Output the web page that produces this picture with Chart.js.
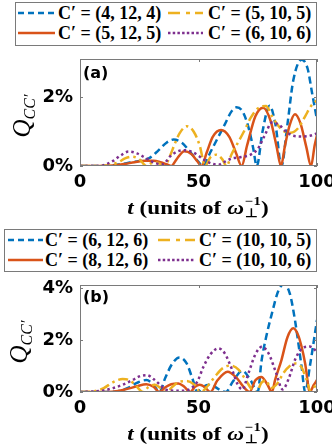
<!DOCTYPE html>
<html>
<head>
<meta charset="utf-8">
<script src="https://cdn.jsdelivr.net/npm/chart.js@4.4.1/dist/chart.umd.min.js"></script>
<style>
  html, body { margin: 0; padding: 0; background: #fff; }
  body { width: 332px; height: 447px; position: relative; overflow: hidden; }
  canvas { position: absolute; left: 0; }
  .box { position: absolute; box-sizing: border-box; border: 1px solid #7a7a7a; background: #fff; }
  .sample { position: absolute; }
  .ltxt { position: absolute; font-family: "Liberation Serif", serif; font-weight: bold; font-size: 18px;
          line-height: 20px; white-space: nowrap; color: #000; }
  .tag { position: absolute; font-family: "DejaVu Sans", sans-serif; font-weight: bold; font-size: 16px; line-height: 18px; }
  .xt { position: absolute; left: 198px; transform: translateX(-50%) scaleX(1.22); font-family: "Liberation Serif", serif;
        font-weight: bold; font-size: 19px; line-height: 22px; white-space: nowrap; }
  .ss { display: inline-block; position: relative; width: 14px; height: 10px; }
  .ss .up { position: absolute; left: 1px; top: -9px; font-size: 12px; line-height: 12px; }
  .ss .dn { position: absolute; left: 1px; top: 3px; font-size: 12px; line-height: 12px; }
  .yt { position: absolute; font-family: "Liberation Serif", serif; font-style: italic; font-size: 25px; line-height: 26px;
        white-space: nowrap; transform: translate(-50%, -50%) rotate(-90deg); }
  .yt sub { font-size: 16px; vertical-align: -5px; }
</style>
</head>
<body>
<div class="box" style="left:15px;top:2px;width:302px;height:44px"></div>
<div class="box" style="left:4px;top:229px;width:313px;height:43px"></div>
<div id="legendA"></div>
<div id="legendB"></div>

<canvas id="chartA" width="332" height="152" style="top:48px"></canvas>
<canvas id="chartB" width="332" height="152" style="top:274px"></canvas>

<div class="tag" style="left:83px;top:64px">(a)</div>
<div class="tag" style="left:83px;top:288px">(b)</div>

<div class="xt" style="top:197px"><i>t</i> (units of <i>ω</i><span class="ss"><span class="up">−1</span><span class="dn">⊥</span></span>)</div>
<div class="xt" style="top:423px"><i>t</i> (units of <i>ω</i><span class="ss"><span class="up">−1</span><span class="dn">⊥</span></span>)</div>

<div class="yt" style="left:26px;top:116px">Q<sub>CC′</sub></div>
<div class="yt" style="left:23px;top:342px">Q<sub>CC′</sub></div>

<script>
// panel (a): C' = (4,12,4), (5,12,5), (5,10,5), (6,10,6)
const labelsA = ["C′ = (4, 12, 4)", "C′ = (5, 12, 5)", "C′ = (5, 10, 5)", "C′ = (6, 10, 6)"];
const tA1 = [0, 8, 13, 17, 21, 25, 29, 33, 36.5, 39.5, 43, 46, 49, 52, 55, 58, 61, 64, 66, 68.5, 71, 73, 74.6, 77, 80, 82.5, 85, 87.5, 90, 93.5, 96, 98, 100];
const qA1 = [0, 0, 0.02, 0.05, 0.1, 0.15, 0.22, 0.45, 0.68, 0.77, 0.68, 0.45, 0.2, 0, 0.4, 0.8, 1.2, 1.6, 1.71, 1.6, 1.15, 0.55, 0, 1.0, 1.76, 1.2, 0, 1.2, 2.5, 3.1, 2.85, 2.1, 1.35];
const tA2 = [0, 10, 15, 19, 23, 27.5, 31, 34, 36.5, 38.5, 41, 44, 47, 49.5, 51.3, 53.5, 56, 59.5, 63, 66, 68.2, 70.5, 74, 77.3, 80.5, 83, 84.8, 86.5, 88.5, 90.7, 93, 95.5, 97.5, 99, 100];
const qA2 = [0, 0, 0.02, 0.06, 0.11, 0.15, 0.15, 0.11, 0.05, 0, 0.22, 0.43, 0.35, 0.14, 0, 0.4, 0.85, 1.05, 0.85, 0.35, 0, 0.6, 1.45, 1.7, 1.3, 0.55, 0, 0.6, 1.2, 1.51, 1.25, 0.55, 0, 0.6, 0.9];
const tA3 = [0, 8, 12, 16, 19, 22, 25, 28, 30, 32, 34, 35.8, 38, 40, 42, 45, 48, 50.5, 52.8, 55, 57.5, 60, 61.8, 64, 66, 69.5, 72, 75, 78.5, 81, 84, 87, 89, 92, 95, 97.5, 100];
const qA3 = [0, 0, 0.03, 0.1, 0.22, 0.27, 0.2, 0, 0.08, 0.1, 0.06, 0, 0.3, 0.65, 0.95, 1.16, 1.0, 0.6, 0, 0.25, 0.33, 0.2, 0, 0.35, 0.6, 1.05, 1.4, 1.68, 1.75, 1.45, 1.15, 0.98, 0.97, 1.1, 1.45, 1.75, 1.92];
const tA4 = [0, 8, 11, 14, 17, 20.5, 24, 28, 32, 35, 38, 41, 44, 47, 50, 53, 56, 58.5, 61, 64, 68, 72, 75, 78, 81, 84, 87, 90, 94, 97, 100];
const qA4 = [0, 0, 0.05, 0.15, 0.3, 0.42, 0.37, 0.22, 0.08, 0.05, 0.28, 0.42, 0.46, 0.42, 0.3, 0.15, 0.06, 0.04, 0.12, 0.22, 0.26, 0.33, 0.5, 0.9, 1.27, 1.2, 1.0, 0.88, 0.86, 0.88, 0.95];

// panel (b): C' = (6,12,6), (8,12,6), (10,10,5), (10,10,6)
const labelsB = ["C′ = (6, 12, 6)", "C′ = (8, 12, 6)", "C′ = (10, 10, 5)", "C′ = (10, 10, 6)"];
const tB1 = [0, 12, 16, 20, 24, 28, 31, 33.5, 36, 39, 42, 45, 47.5, 49.5, 52, 54.5, 57, 59.5, 61.5, 64.5, 68.5, 72, 75, 76.6, 78.5, 80.9, 83.7, 86, 88.5, 90.7, 93.5, 95, 97, 100];
const qB1 = [0, 0, 0.03, 0.15, 0.35, 0.46, 0.28, 0, 0.55, 1.1, 1.33, 1.1, 0.5, 0, 0.2, 0.28, 0.2, 0.05, 0, 0.4, 0.82, 0.45, 0, 1.2, 2.1, 3.0, 3.9, 4.15, 3.8, 2.77, 0.97, 0, 1.0, 2.77];
const tB2 = [0, 12, 16, 20, 24, 28, 31, 33.5, 36, 38.5, 41.5, 44, 46.5, 48.5, 50.5, 52.5, 55, 58, 62.3, 66, 69, 71.5, 74, 76.5, 79, 81, 82.3, 85, 87.5, 90, 92, 93.5, 95, 97, 98.5, 100];
const qB2 = [0, 0, 0.04, 0.12, 0.22, 0.3, 0.2, 0, 0.18, 0.3, 0.33, 0.2, 0, 0.2, 0.28, 0.2, 0, 0.45, 0.78, 0.55, 0.2, 0, 0.45, 0.58, 0.3, 0, 0.46, 1.23, 2.1, 2.45, 2.2, 1.74, 1.1, 0, 0.25, 0.46];
const tB3 = [0, 6, 10, 14, 18, 21, 24, 26.5, 29, 31.5, 34, 36.5, 39, 42, 45, 48, 51, 54, 57, 60, 63.5, 67, 70, 72.5, 74.5, 76.5, 78.5, 80.5, 83, 86, 88.5, 91, 93.5, 95.5, 97.5, 100];
const qB3 = [0, 0.03, 0.15, 0.38, 0.5, 0.45, 0.2, 0, 0.2, 0.28, 0.15, 0, 0.2, 0.4, 0.42, 0.3, 0, 0.25, 0.6, 0.9, 1.02, 0.85, 0.45, 0.1, 0, 0.35, 0.45, 0.15, 0.3, 0.75, 1.0, 1.1, 0.95, 0.5, 0, 0.4];
const tB4 = [0, 6, 10, 14, 18, 22, 25, 28.2, 31, 33.5, 36, 40, 44, 47, 49.5, 52, 55, 58.4, 61, 64, 66.5, 68.5, 71, 74, 76.7, 79.5, 82.5, 85.5, 88, 91, 94.5, 97, 100];
const qB4 = [0, 0.02, 0.06, 0.15, 0.28, 0.45, 0.6, 0.65, 0.5, 0.3, 0.1, 0.05, 0.05, 0.15, 0.4, 0.95, 1.45, 1.68, 1.5, 0.9, 0.3, 0.1, 0.7, 1.45, 1.74, 1.5, 0.8, 0.1, 0.5, 1.3, 1.72, 1.75, 1.55];

const xTicks = [0, 50, 100];
const yTicksA = [0, 2];
const yTicksB = [0, 2, 4];

const colors = ["#0072BD", "#D95319", "#EDB120", "#7E2F8E"];
const dashes = [[7, 4], [], [10, 4, 2.5, 4], [2.5, 3]];
const legendDashes = [[6, 4], [], [12, 6, 4, 5], [2.5, 2.2]];

Chart.defaults.font.family = "DejaVu Sans";

function pts(ts, qs) {
  return ts.map((t, i) => ({ x: t, y: qs[i] }));
}

const frame = {
  id: "frame",
  afterDatasetsDraw(chart) {
    const { ctx, chartArea: a, scales: { x, y } } = chart;
    ctx.save();
    ctx.strokeStyle = "#7a7a7a";
    ctx.lineWidth = 1;
    ctx.beginPath();
    x.ticks.forEach(t => {
      const px = Math.round(x.getPixelForValue(t.value)) + 0.5;
      ctx.moveTo(px, a.bottom); ctx.lineTo(px, a.bottom - 3);
      ctx.moveTo(px, a.top); ctx.lineTo(px, a.top + 3);
    });
    y.ticks.forEach(t => {
      const py = Math.round(y.getPixelForValue(t.value)) + 0.5;
      ctx.moveTo(a.left, py); ctx.lineTo(a.left + 3, py);
      ctx.moveTo(a.right, py); ctx.lineTo(a.right - 3, py);
    });
    ctx.stroke();
    ctx.strokeRect(Math.round(a.left) + 0.5, Math.round(a.top) + 0.5,
      Math.round(a.right - a.left) - 1, Math.round(a.bottom - a.top) - 1);
    ctx.restore();
  }
};

function makeChart(id, labels, series, yMax, yTicks) {
  const datasets = series.map((s, i) => ({
    label: labels[i],
    data: pts(s[0], s[1]),
    borderColor: colors[i],
    borderWidth: 2.5,
    borderDash: dashes[i],
    pointRadius: 0,
    fill: false,
    cubicInterpolationMode: "monotone",
    order: 3 - i
  }));
  return new Chart(document.getElementById(id), {
    type: "line",
    data: { datasets },
    options: {
      responsive: false,
      animation: false,
      devicePixelRatio: 1,
      layout: { padding: { top: 11, right: 15, left: 0, bottom: 0 } },
      plugins: { legend: { display: false }, tooltip: { enabled: false } },
      scales: {
        x: {
          type: "linear", min: 0, max: 100,
          grid: { display: false, drawTicks: false },
          border: { display: false },
          afterBuildTicks: s => { s.ticks = xTicks.map(v => ({ value: v })); },
          afterFit: s => { s.height = 34; s.paddingLeft = 0; s.paddingRight = 0; },
          ticks: { color: "#000", font: { size: 18, weight: "bold" }, padding: 6, maxRotation: 0, autoSkip: false }
        },
        y: {
          type: "linear", min: 0, max: yMax,
          grid: { display: false, drawTicks: false },
          border: { display: false },
          afterBuildTicks: s => { s.ticks = yTicks.map(v => ({ value: v })); },
          afterFit: s => { s.width = 80; s.paddingTop = 0; s.paddingBottom = 0; },
          ticks: { color: "#000", font: { size: 18, weight: "bold" }, padding: 7, callback: v => v + "%" }
        }
      }
    },
    plugins: [frame]
  });
}

makeChart("chartA", labelsA, [[tA1, qA1], [tA2, qA2], [tA3, qA3], [tA4, qA4]], 3.12, yTicksA);
makeChart("chartB", labelsB, [[tB1, qB1], [tB2, qB2], [tB3, qB3], [tB4, qB4]], 4.12, yTicksB);

// legends: column 1 = series 1,2 ; column 2 = series 3,4
function makeLegend(el, labels, rowsY, sampleX, textX) {
  const order = [[0, 0, 0], [1, 0, 1], [2, 1, 0], [3, 1, 1]];
  order.forEach(([i, col, row]) => {
    const cy = rowsY[row];
    const [x0, x1] = sampleX[col];
    const w = x1 - x0;
    const dash = legendDashes[i].length ? `stroke-dasharray="${legendDashes[i].join(" ")}"` : "";
    el.insertAdjacentHTML("beforeend",
      `<svg class="sample" style="left:${x0}px;top:${cy - 3}px" width="${w}" height="6">` +
      `<line x1="0" y1="3" x2="${w}" y2="3" stroke="${colors[i]}" stroke-width="2.5" ${dash}/></svg>` +
      `<span class="ltxt" style="left:${textX[col]}px;top:${cy - 10}px">${labels[i]}</span>`);
  });
}

makeLegend(document.getElementById("legendA"), labelsA, [13, 33], [[18, 55], [168, 203]], [58, 208]);
makeLegend(document.getElementById("legendB"), labelsB, [240, 260], [[8, 43], [158, 195]], [45, 199]);
</script>
</body>
</html>
